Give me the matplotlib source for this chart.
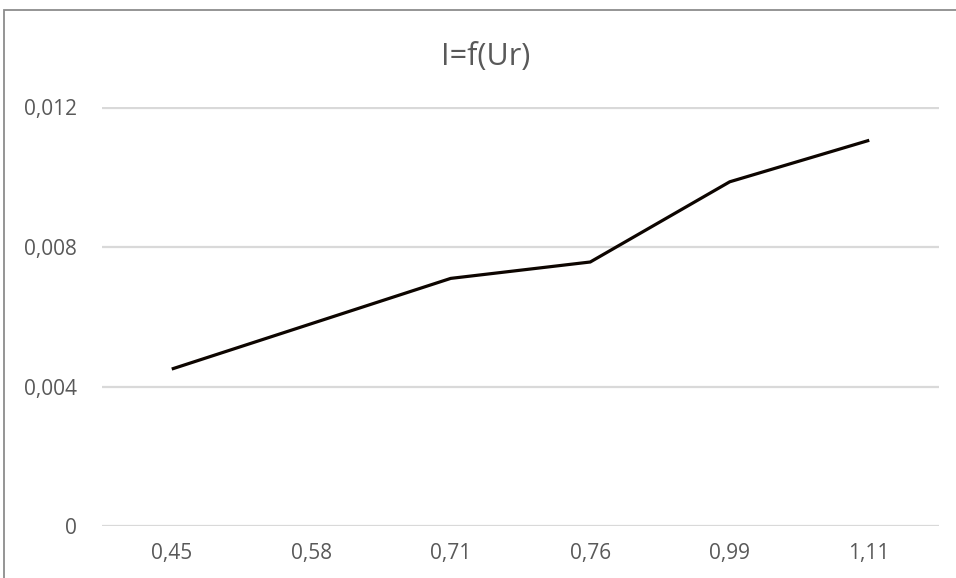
import matplotlib
matplotlib.use("Agg")
import matplotlib.pyplot as plt
from matplotlib.patches import Rectangle
from matplotlib.ticker import FixedLocator

categories = ["0,45", "0,58", "0,71", "0,76", "0,99", "1,11"]
current = [0.0045, 0.0058, 0.0071, 0.00757, 0.00987, 0.01106]
yticks = [0, 0.004, 0.008, 0.012]
ytick_labels = ["0", "0,004", "0,008", "0,012"]
title = "I=f(Ur)"

plt.rcParams['font.family'] = ['Liberation Sans Narrow', 'Open Sans', 'DejaVu Sans']

W, H = 956, 578
fig = plt.figure(figsize=(W / 100, H / 100), dpi=100)
fig.patch.set_facecolor("white")

left, right, top, bottom = 102, 939, 107.5, 526
ax = fig.add_axes([left / W, (H - bottom) / H, (right - left) / W, (bottom - top) / H])

x = list(range(len(categories)))
ax.plot(x, current, color="#0d0500", linewidth=2.3, solid_capstyle="butt", solid_joinstyle="miter", zorder=3)

ax.set_xlim(-0.5, len(categories) - 0.5)
ax.set_ylim(0, 0.012)
ax.set_xticks(x)
ax.set_xticklabels(categories)
ax.yaxis.set_major_locator(FixedLocator(yticks))
ax.set_yticklabels(ytick_labels)
ax.grid(axis="y", color="#d9d9d9", linewidth=1.6, zorder=0)
ax.set_axisbelow(True)
for s in ax.spines.values():
    s.set_visible(False)
ax.tick_params(axis="both", length=0, labelsize=15, colors="#595959")
ax.tick_params(axis="y", pad=18)
ax.tick_params(axis="x", pad=12)

fig.text(486 / W, 1 - 57 / H, title, ha="center", va="center", fontsize=22, color="#595959")

# outer chart border (top and left visible in the crop)
fig.add_artist(Rectangle((4 / W, -0.1), 1.2, (H - 10) / H + 0.1, transform=fig.transFigure,
                         fill=False, edgecolor="#8c8c8c", linewidth=1.3))

fig.savefig("out.png", dpi=100, facecolor="white")
